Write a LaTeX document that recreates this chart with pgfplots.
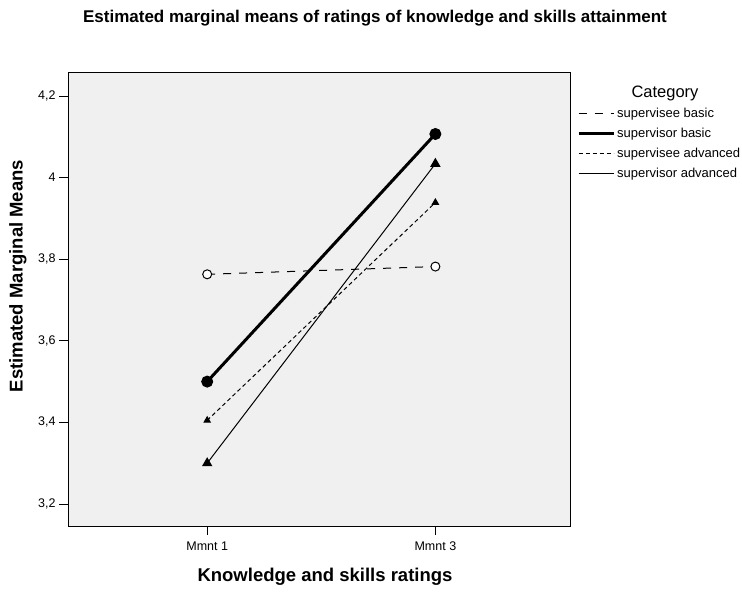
\documentclass[border=0pt]{standalone}
\usepackage{pgfplots}
\pgfplotsset{compat=1.18}
\usepackage{fontspec}
\setmainfont{Liberation Sans}
\begin{document}
\begin{tikzpicture}[x=1bp,y=1bp]
\useasboundingbox (0,0) rectangle (742,592);
\node[font=\fontsize{17bp}{18bp}\selectfont\bfseries] at (375,574) {Estimated marginal means of ratings of knowledge and skills attainment};
\begin{axis}[
  at={(68bp,66bp)}, anchor=south west,
  scale only axis, width=502bp, height=454bp,
  xmin=-0.61, xmax=1.59, ymin=3.146, ymax=4.259,
  xtick={0,1}, xticklabels={Mmnt 1,Mmnt 3},
  ytick={3.2,3.4,3.6,3.8,4.0,4.2},
  /pgf/number format/use comma,
  /pgf/number format/assume math mode=true,
  tick label style={font=\fontsize{12.5bp}{14bp}\selectfont},
  xticklabel style={yshift=-3bp},
  tick align=outside, tickwidth=9bp,
  xtick pos=bottom, ytick pos=left,
  axis background/.style={fill={rgb,255:red,240;green,240;blue,240}},
  axis line style={line width=0.8bp, black},
  major tick style={line width=0.8bp, black},
  legend style={at={(1.012,0.927)}, anchor=north west, draw=none, fill=none,
    font=\fontsize{13bp}{15bp}\selectfont, row sep=5bp, inner sep=1bp},
  legend cell align=left,
  legend image code/.code={\draw[#1] (0bp,0bp) -- (35bp,0bp);},
]
\addplot[black, line width=1bp, dash pattern=on 8bp off 8bp,
  mark=*, mark size=4.5bp, mark options={solid, fill=white, draw=black}]
  coordinates {(0,3.763) (1,3.782)};
\addlegendentry{supervisee basic}
\addplot[black, line width=3bp, mark=*, mark size=5.5bp, mark options={solid, line width=1bp}]
  coordinates {(0,3.500) (1,4.107)};
\addlegendentry{supervisor basic}
\addplot[black, line width=1bp, dash pattern=on 4bp off 3bp,
  mark=triangle*, mark size=3.5bp, mark options={solid}]
  coordinates {(0,3.405) (1,3.939)};
\addlegendentry{supervisee advanced}
\addplot[black, line width=1bp, mark=triangle*, mark size=5bp, mark options={solid}]
  coordinates {(0,3.300) (1,4.034)};
\addlegendentry{supervisor advanced}
\end{axis}
\node[font=\fontsize{16.5bp}{18bp}\selectfont] at (665,499) {Category};
\node[font=\fontsize{18.5bp}{20bp}\selectfont\bfseries] at (325,15) {Knowledge and skills ratings};
\node[font=\fontsize{18.5bp}{20bp}\selectfont\bfseries, rotate=90] at (18,316) {Estimated Marginal Means};
\end{tikzpicture}
\end{document}
